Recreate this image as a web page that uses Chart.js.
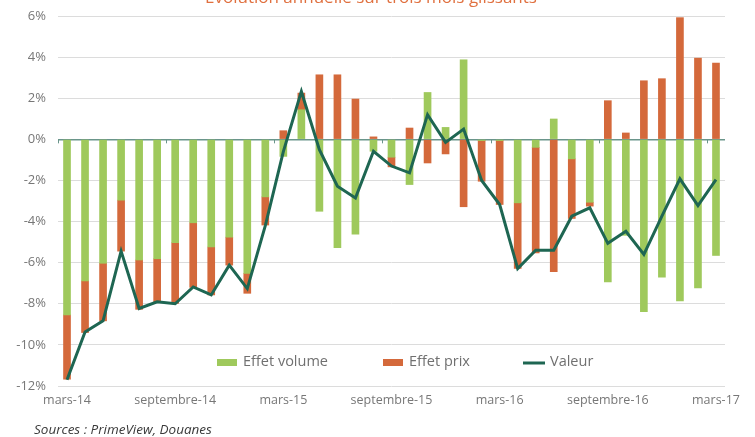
<!DOCTYPE html>
<html>
<head>
<meta charset="utf-8">
<script src="https://cdn.jsdelivr.net/npm/chart.js@4"></script>
<style>
  body { margin: 0; background: #fff; }
  #wrap { width: 755px; height: 437px; }
</style>
</head>
<body>
<div id="wrap"><canvas id="chart" width="755" height="437"></canvas></div>
<script>
// mois, de mars-14 à mars-17
const categories = [
    'mars-14', 'avr.-14', 'mai-14', 'juin-14', 'juil.-14', 'août-14',
    'septembre-14', 'oct.-14', 'nov.-14', 'déc.-14', 'janv.-15', 'févr.-15',
    'mars-15', 'avr.-15', 'mai-15', 'juin-15', 'juil.-15', 'août-15',
    'septembre-15', 'oct.-15', 'nov.-15', 'déc.-15', 'janv.-16', 'févr.-16',
    'mars-16', 'avr.-16', 'mai-16', 'juin-16', 'juil.-16', 'août-16',
    'septembre-16', 'oct.-16', 'nov.-16', 'déc.-16', 'janv.-17', 'févr.-17',
    'mars-17'
];
const tickLabels = ['mars-14', 'septembre-14', 'mars-15', 'septembre-15', 'mars-16', 'septembre-16', 'mars-17'];

const effetVolume = [
    -8.54, -6.89, -6.03, -2.96, -5.87, -5.81, -5.03, -4.06, -5.24, -4.76, -6.52, -2.80,
    -0.83, 1.44, -3.50, -5.27, -4.61, -0.58, -0.87, -2.20, 2.28, 0.58, 3.87, -0.06,
    -0.06, -3.09, -0.39, 0.99, -0.95, -3.06, -6.94, -4.67, -8.38, -6.70, -7.86, -7.23,
    -5.65
];
const effetPrix = [
    -3.13, -2.51, -2.80, -2.48, -2.40, -2.10, -2.95, -3.14, -2.33, -1.36, -0.97, -1.37,
    0.42, 0.81, 3.14, 3.14, 1.96, 0.12, -0.47, 0.55, -1.15, -0.71, -3.28, -1.98,
    -3.11, -3.19, -5.13, -6.44, -2.90, -0.19, 1.88, 0.31, 2.85, 2.95, 5.92, 3.95,
    3.71
];
const valeur = [
    -11.70, -9.37, -8.83, -5.44, -8.23, -7.90, -8.00, -7.18, -7.57, -6.12, -7.26, -4.20,
    -0.60, 2.33, -0.50, -2.28, -2.85, -0.58, -1.30, -1.63, 1.20, -0.15, 0.50, -2.00,
    -3.17, -6.29, -5.39, -5.39, -3.74, -3.33, -5.06, -4.47, -5.60, -3.74, -1.92, -3.22,
    -1.96
];

const GREEN = '#9fc95c';
const ORANGE = '#d4693b';
const LINE = '#1e6652';
const FONT = '"Open Sans", "Noto Sans", sans-serif';

// titre (coupé en haut), légende dans la zone du graphique et source
const extras = {
    id: 'extras',
    afterDraw(chart) {
        const ctx = chart.ctx;
        const x = chart.scales.x;
        const y = chart.scales.y;
        ctx.save();

        // petites graduations sur l'axe 0
        const y0 = y.getPixelForValue(0);
        const step = x.width / categories.length;
        ctx.strokeStyle = '#6a958b';
        ctx.lineWidth = 1;
        for (let i = 0; i <= categories.length; i += 6) {
            const px = Math.round(x.left + i * step) + 0.5;
            ctx.beginPath();
            ctx.moveTo(px, y0);
            ctx.lineTo(px, y0 + 4);
            ctx.stroke();
        }

        // titre
        ctx.fillStyle = '#e0703f';
        ctx.font = '17px ' + FONT;
        ctx.textAlign = 'center';
        ctx.textBaseline = 'alphabetic';
        ctx.fillText('Évolution annuelle sur trois mois glissants', 371, 3);

        // légende
        ctx.font = '14.5px ' + FONT;
        ctx.textAlign = 'left';
        ctx.textBaseline = 'middle';
        const ly = 362;
        ctx.fillStyle = GREEN;
        ctx.fillRect(217, ly - 3, 20, 7);
        ctx.fillStyle = '#707070';
        ctx.fillText('Effet volume', 243, ly);
        ctx.fillStyle = ORANGE;
        ctx.fillRect(383, ly - 3, 20, 7);
        ctx.fillStyle = '#707070';
        ctx.fillText('Effet prix', 409, ly);
        ctx.strokeStyle = LINE;
        ctx.lineWidth = 3;
        ctx.beginPath();
        ctx.moveTo(523, ly + 1);
        ctx.lineTo(545, ly + 1);
        ctx.stroke();
        ctx.fillText('Valeur', 550, ly);

        // source
        ctx.fillStyle = '#3a3a3a';
        ctx.font = 'italic 13.5px ' + FONT;
        ctx.fillText('Sources : PrimeView, Douanes', 34, 430);
        ctx.restore();
    }
};

new Chart(document.getElementById('chart').getContext('2d'), {
    type: 'bar',
    data: {
        labels: categories,
        datasets: [
            {
                label: 'Effet volume',
                data: effetVolume,
                backgroundColor: GREEN,
                barThickness: 7,
                stack: 'effets',
                order: 2,
            },
            {
                label: 'Effet prix',
                data: effetPrix,
                backgroundColor: ORANGE,
                barThickness: 7,
                stack: 'effets',
                order: 2,
            },
            {
                type: 'line',
                label: 'Valeur',
                data: valeur,
                borderColor: LINE,
                backgroundColor: LINE,
                borderWidth: 3,
                pointRadius: 0,
                tension: 0,
                stack: 'valeur',
                order: 1,
            },
        ],
    },
    options: {
        responsive: false,
        animation: false,
        layout: { padding: { top: 16, right: 30, left: 0, bottom: 0 } },
        plugins: {
            legend: { display: false },
            tooltip: { enabled: false },
        },
        scales: {
            x: {
                stacked: true,
                grid: { display: false, drawTicks: false },
                border: { display: false },
                afterFit: (scale) => { scale.height = 51; },
                ticks: {
                    autoSkip: false,
                    maxRotation: 0,
                    padding: 7,
                    color: '#777',
                    font: { family: FONT, size: 12.5 },
                    callback: (value, index) => (index % 6 === 0 ? tickLabels[index / 6] : ''),
                },
            },
            y: {
                stacked: true,
                min: -12,
                max: 6,
                afterFit: (scale) => { scale.width = 58; },
                border: { display: false },
                grid: {
                    drawTicks: true,
                    tickLength: 9,
                    tickColor: 'rgba(0,0,0,0)',
                    color: (c) => (c.tick && c.tick.value === 0 ? '#6a958b' : '#dcdcdc'),
                    lineWidth: (c) => (c.tick && c.tick.value === 0 ? 1.5 : 1),
                },
                ticks: {
                    stepSize: 2,
                    padding: 3,
                    color: '#777',
                    font: { family: FONT, size: 13 },
                    callback: (v) => v + '%',
                },
            },
        },
    },
    plugins: [extras],
});
</script>
</body>
</html>
